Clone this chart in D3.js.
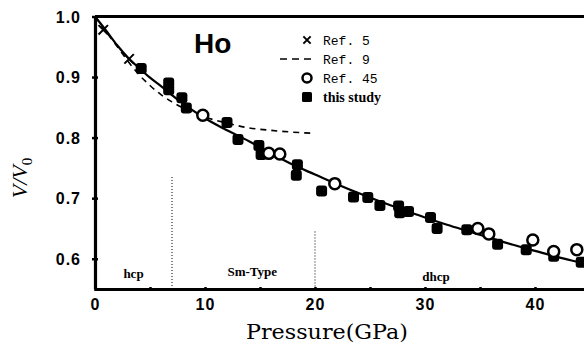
<!DOCTYPE html>
<html>
<head>
<meta charset="utf-8">
<script src="https://cdn.jsdelivr.net/npm/d3@7"></script>
<style>
  body { margin: 0; background: #fff; }
  svg { display: block; }
</style>
</head>
<body>
<div id="chart"></div>
<script>
// Ho compression data, V/V0 vs pressure (GPa)
const ref5 = [[0.75, 0.978], [3.1, 0.930]];
const ref9 = [[0, 1.0], [1, 0.975], [2, 0.951], [3, 0.926], [4, 0.904], [5, 0.886], [6, 0.871],
    [7, 0.859], [8, 0.849], [9, 0.841], [10, 0.834], [12, 0.824], [14, 0.816], [16, 0.812],
    [18, 0.809], [20, 0.807]];
const ref45 = [[9.8, 0.837], [15.8, 0.774], [16.8, 0.773], [21.8, 0.724], [34.8, 0.650],
    [35.8, 0.641], [39.8, 0.631], [41.7, 0.612], [43.8, 0.615]];
const thisStudy = [[4.2, 0.914], [6.7, 0.890], [6.7, 0.879], [7.9, 0.866], [8.3, 0.849],
    [12.0, 0.825], [13.0, 0.797], [14.9, 0.787], [15.1, 0.772], [18.4, 0.755], [18.3, 0.738],
    [20.6, 0.712], [23.5, 0.702], [24.8, 0.701], [25.9, 0.688], [27.6, 0.687], [27.7, 0.676],
    [28.5, 0.678], [30.5, 0.668], [31.1, 0.650], [33.8, 0.648], [36.6, 0.624], [39.2, 0.615],
    [41.7, 0.604], [44.2, 0.594]];
// fitted curve
const fit = [[0, 1.0], [1, 0.977], [2, 0.953], [3, 0.932], [4, 0.915], [5, 0.899], [6, 0.885],
    [7, 0.870], [8, 0.856], [10, 0.832], [12, 0.812], [14, 0.794], [16, 0.774], [18, 0.755],
    [20, 0.739], [22, 0.723], [24, 0.708], [26, 0.694], [28, 0.681], [30, 0.668], [32, 0.656],
    [34, 0.645], [36, 0.634], [38, 0.623], [40, 0.613], [42, 0.603], [44, 0.594], [46, 0.585]];
const xTicks = [0, 5, 10, 15, 20, 25, 30, 35, 40, 45];
const yTicks = [0.6, 0.7, 0.8, 0.9, 1.0];
const phaseBounds = [[7, 0.735], [20, 0.645]];
const phases = [["hcp", 3.5, 0.568], ["Sm-Type", 14.3, 0.571], ["dhcp", 31.0, 0.564]];
const legendItems = ["Ref. 5", "Ref. 9", "Ref. 45", "this study"];

const width = 584, height = 347;
const svg = d3.select("#chart").append("svg")
    .attr("width", width)
    .attr("height", height);

const x = d3.scaleLinear().domain([0, 50]).range([95, 645]);
const y = d3.scaleLinear().domain([0.55, 1.0]).range([289, 16.5]);

const line = d3.line().x(d => x(d[0])).y(d => y(d[1])).curve(d3.curveMonotoneX);

// phase boundaries
svg.selectAll(".bound")
    .data(phaseBounds)
    .enter().append("line")
    .attr("x1", d => x(d[0])).attr("x2", d => x(d[0]))
    .attr("y1", d => y(d[1])).attr("y2", y(0.55))
    .attr("stroke", "#000").attr("stroke-width", 1)
    .attr("stroke-dasharray", "1,2");

svg.selectAll(".phase")
    .data(phases)
    .enter().append("text")
    .attr("x", d => x(d[1])).attr("y", d => y(d[2]))
    .attr("text-anchor", "middle")
    .style("font-family", "'Liberation Serif', 'Times New Roman', serif")
    .style("font-weight", "bold")
    .style("font-size", "13px")
    .text(d => d[0]);

// curves
svg.append("path").datum(ref9)
    .attr("d", line).attr("fill", "none")
    .attr("stroke", "#000").attr("stroke-width", 1.6)
    .attr("stroke-dasharray", "6,5");
svg.append("path").datum(fit)
    .attr("d", line).attr("fill", "none")
    .attr("stroke", "#000").attr("stroke-width", 2.2);

// markers
svg.selectAll(".sq")
    .data(thisStudy)
    .enter().append("rect")
    .attr("x", d => x(d[0]) - 5.5).attr("y", d => y(d[1]) - 5.5)
    .attr("width", 11).attr("height", 11).attr("rx", 3)
    .attr("fill", "#000");

svg.selectAll(".circ")
    .data(ref45)
    .enter().append("circle")
    .attr("cx", d => x(d[0])).attr("cy", d => y(d[1])).attr("r", 5.5)
    .attr("fill", "#fff").attr("stroke", "#000").attr("stroke-width", 2.5);

const cross = d3.symbol().type(d3.symbolX).size(60);
svg.selectAll(".cross")
    .data(ref5)
    .enter().append("path")
    .attr("d", cross)
    .attr("transform", d => `translate(${x(d[0])},${y(d[1])})`)
    .attr("fill", "none").attr("stroke", "#000").attr("stroke-width", 2);

// axes
const yAxis = svg.append("g")
    .attr("transform", `translate(${x(0)},0)`)
    .call(d3.axisLeft(y).tickValues(yTicks).tickFormat(d3.format(".1f")).tickSizeOuter(0));
const xAxis = svg.append("g")
    .attr("transform", `translate(0,${y(0.55)})`)
    .call(d3.axisBottom(x).tickValues(xTicks).tickFormat(d => d % 10 === 0 ? d : "").tickSizeOuter(0));

[yAxis, xAxis].forEach(g => {
    g.select(".domain").attr("stroke-width", 3.2);
    g.selectAll("text")
        .style("font-family", "'Liberation Sans', Arial, sans-serif")
        .style("font-weight", "bold")
        .style("font-size", "16px")
        .style("letter-spacing", "1px")
        .attr("fill", "#000");
});
yAxis.selectAll(".tick line").attr("x1", -3).attr("x2", 3).attr("stroke-width", 2.5);
yAxis.selectAll(".tick text").attr("x", -14).attr("dy", "0.35em");
xAxis.selectAll(".tick line").attr("y1", -2).attr("y2", 2).attr("stroke-width", 2.5);
xAxis.selectAll(".tick text").attr("y", 10).attr("dy", "0.71em");

// top frame
svg.append("line")
    .attr("x1", x(0)).attr("x2", width)
    .attr("y1", y(1.0)).attr("y2", y(1.0))
    .attr("stroke", "#000").attr("stroke-width", 3);

// axis titles
svg.append("text")
    .attr("x", 327).attr("y", 339)
    .attr("text-anchor", "middle")
    .attr("textLength", 162).attr("lengthAdjust", "spacingAndGlyphs")
    .style("font-family", "'DejaVu Serif', serif")
    .style("font-size", "21px")
    .text("Pressure(GPa)");

const yl = svg.append("text")
    .attr("transform", "translate(27,178) rotate(-90)")
    .attr("text-anchor", "middle")
    .style("font-family", "'Liberation Serif', 'Times New Roman', serif")
    .style("font-style", "italic")
    .style("font-size", "22px");
yl.append("tspan").text("V/V");
yl.append("tspan").attr("dy", 5).style("font-size", "15px").style("font-style", "normal").text("0");

// element label
svg.append("text")
    .attr("x", 194).attr("y", 53)
    .style("font-family", "'Liberation Sans', Arial, sans-serif")
    .style("font-weight", "bold")
    .style("font-size", "28px")
    .text("Ho");

// legend
const lx = 307, ly = 40, lstep = 19;
const leg = svg.append("g");
leg.append("path").attr("d", d3.symbol().type(d3.symbolX).size(36))
    .attr("transform", `translate(${lx},${ly})`)
    .attr("stroke", "#000").attr("stroke-width", 2);
leg.append("line")
    .attr("x1", lx - 27).attr("x2", lx + 6)
    .attr("y1", ly + lstep).attr("y2", ly + lstep)
    .attr("stroke", "#000").attr("stroke-width", 1.6).attr("stroke-dasharray", "7,5");
leg.append("circle").attr("cx", lx).attr("cy", ly + 2 * lstep).attr("r", 4.5)
    .attr("fill", "#fff").attr("stroke", "#000").attr("stroke-width", 2.5);
leg.append("rect").attr("x", lx - 5).attr("y", ly + 3 * lstep - 5)
    .attr("width", 10).attr("height", 10).attr("rx", 1.5).attr("fill", "#000");

leg.selectAll(".lt")
    .data(legendItems)
    .enter().append("text")
    .attr("x", 323).attr("y", (d, i) => ly + 5 + i * lstep)
    .style("font-family", (d, i) => i < 3 ? "'Liberation Mono', 'Courier New', monospace" : "'Liberation Serif', 'Times New Roman', serif")
    .style("font-weight", (d, i) => i < 3 ? "normal" : "bold")
    .style("font-size", (d, i) => i < 3 ? "13px" : "14px")
    .text(d => d);
</script>
</body>
</html>
